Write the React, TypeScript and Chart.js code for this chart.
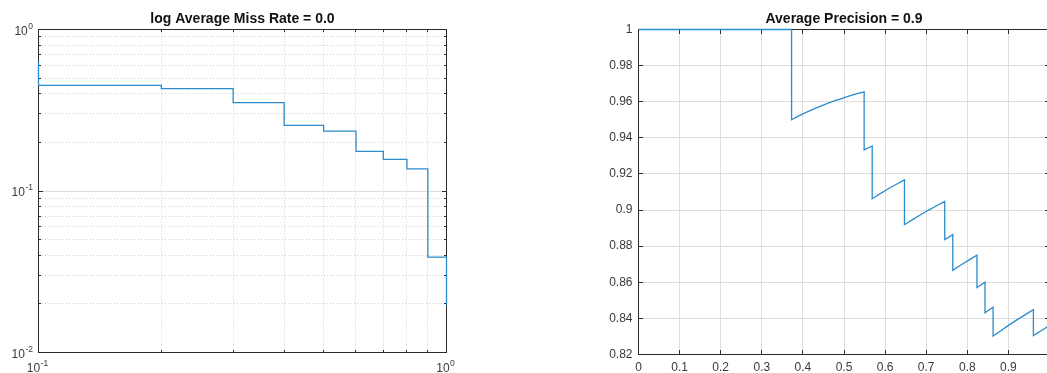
import React, { useEffect, useRef } from 'react';
import { Chart, registerables } from 'chart.js';

Chart.register(...registerables);

const FONT = "'Liberation Sans', Arial, Helvetica, sans-serif";
const TEXT_COLOR = '#3a3a3a';
const AXIS_COLOR = '#2b2b2b';
const LINE_COLOR = '#2b8bcb';
const GRID_COLOR = '#dedede';
const DOT_GRID_COLOR = '#cfcfcf';

// ---- Left panel: miss rate vs false positives per image (log-log) ----
const missTitle = 'log Average Miss Rate = 0.0';
const fppi = [0.1, 0.1, 0.2, 0.3, 0.4, 0.5, 0.6, 0.7, 0.8, 0.9, 1.0];
const missRate = [0.627, 0.451, 0.431, 0.353, 0.255, 0.235, 0.176, 0.157, 0.137, 0.039, 0.0196];
const logXLabelValues = [0.1, 1];
const logXLabelExps = ['-1', '0'];
const logYLabelValues = [1, 0.1, 0.01];
const logYLabelExps = ['0', '-1', '-2'];
const decadeGridY = [0.1];

// ---- Right panel: precision vs recall ----
const apTitle = 'Average Precision = 0.9';
const recall = [
  0, 0.3725, 0.3725, 0.3922, 0.4118, 0.4314, 0.451, 0.4706, 0.4902, 0.5098, 0.5294,
  0.549, 0.549, 0.5686, 0.5686, 0.5882, 0.6078, 0.6275, 0.6471, 0.6471, 0.6667,
  0.6863, 0.7059, 0.7255, 0.7451, 0.7451, 0.7647, 0.7647, 0.7843, 0.8039, 0.8235,
  0.8235, 0.8431, 0.8431, 0.8627, 0.8627, 0.8824, 0.902, 0.9216, 0.9412, 0.9608,
  0.9608, 0.9804, 1.0,
];
const precision = [
  1, 1, 0.95, 0.9524, 0.9545, 0.9565, 0.9583, 0.96, 0.9615, 0.963, 0.9643,
  0.9655, 0.9333, 0.9355, 0.9063, 0.9091, 0.9118, 0.9143, 0.9167, 0.8919, 0.8947,
  0.8974, 0.9, 0.9024, 0.9048, 0.8837, 0.8864, 0.8667, 0.8696, 0.8723, 0.875,
  0.8571, 0.86, 0.8431, 0.8462, 0.8302, 0.8333, 0.8364, 0.8393, 0.8421, 0.8448,
  0.8305, 0.8333, 0.8361,
];
const recallMin = 0;
const recallMax = 1;
const recallStep = 0.1;
const precMin = 0.82;
const precMax = 1;
const precStep = 0.02;

const al = (p: number) => Math.round(p - 0.5) + 0.5;
const isDecade = (v: number) => Math.abs(Math.log10(v) - Math.round(Math.log10(v))) < 1e-6;
const isLogStep = (v: number) => {
  const m = v / Math.pow(10, Math.floor(Math.log10(v) + 1e-9));
  return Math.abs(m - Math.round(m)) < 1e-6;
};

function framePlugin(tickLen: (v: number) => number, solidY: number[]) {
  return {
    id: 'matlabFrame',
    beforeDatasetsDraw(chart: any) {
      const { ctx, chartArea: a, scales } = chart;
      const L = al(a.left), R = al(a.right), T = al(a.top), B = al(a.bottom);
      ctx.save();
      ctx.lineWidth = 1;
      ctx.setLineDash([]);
      ctx.strokeStyle = GRID_COLOR;
      for (const v of solidY) {
        const y = al(scales.y.getPixelForValue(v));
        ctx.beginPath();
        ctx.moveTo(L, y);
        ctx.lineTo(R, y);
        ctx.stroke();
      }
      ctx.strokeStyle = AXIS_COLOR;
      ctx.beginPath();
      for (const t of scales.x.ticks) {
        const x = al(scales.x.getPixelForValue(t.value));
        const len = tickLen(t.value);
        ctx.moveTo(x, B);
        ctx.lineTo(x, B - len);
        ctx.moveTo(x, T);
        ctx.lineTo(x, T + len);
      }
      for (const t of scales.y.ticks) {
        const y = al(scales.y.getPixelForValue(t.value));
        const len = tickLen(t.value);
        ctx.moveTo(L, y);
        ctx.lineTo(L + len, y);
        ctx.moveTo(R, y);
        ctx.lineTo(R - len, y);
      }
      ctx.stroke();
      ctx.strokeRect(L, T, R - L, B - T);
      ctx.restore();
    },
  };
}

const logLabelPlugin = {
  id: 'logLabels',
  afterDraw(chart: any) {
    const { ctx, chartArea: a, scales } = chart;
    ctx.save();
    ctx.fillStyle = TEXT_COLOR;
    ctx.textBaseline = 'alphabetic';
    ctx.textAlign = 'left';
    const baseFont = `12px ${FONT}`;
    const expFont = `8.5px ${FONT}`;
    const drawPow = (exp: string, x: number, y: number, align: 'center' | 'right') => {
      ctx.font = baseFont;
      const wb = ctx.measureText('10').width;
      ctx.font = expFont;
      const we = ctx.measureText(exp).width;
      const total = wb + 0.5 + we;
      const x0 = align === 'center' ? x - total / 2 : x - total;
      ctx.font = baseFont;
      ctx.fillText('10', x0, y);
      ctx.font = expFont;
      ctx.fillText(exp, x0 + wb + 0.5, y - 6);
    };
    logXLabelValues.forEach((v, i) =>
      drawPow(logXLabelExps[i], scales.x.getPixelForValue(v) - 1, a.bottom + 19.5, 'center')
    );
    logYLabelValues.forEach((v, i) =>
      drawPow(logYLabelExps[i], a.left - 5.5, scales.y.getPixelForValue(v) + 5, 'right')
    );
    ctx.restore();
  },
};

const fmt = (v: number | string) => String(+Number(v).toFixed(2));

export default function App() {
  const leftRef = useRef<HTMLCanvasElement>(null);
  const rightRef = useRef<HTMLCanvasElement>(null);

  useEffect(() => {
    Chart.defaults.font.family = FONT;
    const titleOpts = (text: string) => ({
      display: true,
      text,
      fullSize: false,
      color: '#111',
      font: { family: FONT, size: 14, weight: 'bold' as const, lineHeight: 1.2 },
      padding: { top: 11, bottom: 1.7 },
    });

    const dotGrid = {
      color: DOT_GRID_COLOR,
      lineWidth: 1,
      drawTicks: false,
      borderDash: [1, 2],
    };

    const c1 = new Chart(leftRef.current as HTMLCanvasElement, {
      type: 'line',
      data: {
        datasets: [
          {
            data: fppi.map((x, i) => ({ x, y: missRate[i] })),
            borderColor: LINE_COLOR,
            borderWidth: 1.3,
            pointRadius: 0,
            fill: false,
            stepped: 'before',
            clip: 4,
          } as any,
        ],
      },
      options: {
        responsive: false,
        animation: false,
        events: [],
        layout: { padding: { left: 0, right: 76.5, top: 0, bottom: 0 } },
        plugins: {
          legend: { display: false },
          tooltip: { enabled: false },
          title: titleOpts(missTitle),
        },
        scales: {
          x: {
            type: 'logarithmic',
            min: 0.1,
            max: 1,
            ticks: { display: false },
            grid: dotGrid as any,
            border: { display: false, dash: [1, 2] },
            afterBuildTicks: (s: any) => {
              s.ticks = s.ticks.filter((t: any) => isLogStep(t.value));
            },
            afterFit: (s: any) => {
              s.height = 20.5;
              s.paddingLeft = 0;
              s.paddingRight = 0;
            },
          },
          y: {
            type: 'logarithmic',
            min: 0.01,
            max: 1,
            ticks: { display: false },
            grid: dotGrid as any,
            border: { display: false, dash: [1, 2] },
            afterBuildTicks: (s: any) => {
              s.ticks = s.ticks.filter((t: any) => isLogStep(t.value));
            },
            afterFit: (s: any) => {
              s.width = 38.5;
              s.paddingTop = 0;
              s.paddingBottom = 0;
            },
          },
        },
      },
      plugins: [framePlugin((v) => (isDecade(v) ? 4.5 : 2.5), decadeGridY), logLabelPlugin],
    });

    const tickFont = { family: FONT, size: 12 };
    const c2 = new Chart(rightRef.current as HTMLCanvasElement, {
      type: 'line',
      data: {
        datasets: [
          {
            data: recall.map((x, i) => ({ x, y: precision[i] })),
            borderColor: LINE_COLOR,
            borderWidth: 1.3,
            pointRadius: 0,
            fill: false,
            tension: 0,
            clip: 4,
          } as any,
        ],
      },
      options: {
        responsive: false,
        animation: false,
        events: [],
        layout: { padding: { left: 0, right: 33.5, top: 0, bottom: 0 } },
        plugins: {
          legend: { display: false },
          tooltip: { enabled: false },
          title: titleOpts(apTitle),
        },
        scales: {
          x: {
            type: 'linear',
            min: recallMin,
            max: recallMax,
            ticks: {
              stepSize: recallStep,
              autoSkip: false,
              maxRotation: 0,
              padding: 6,
              color: TEXT_COLOR,
              font: tickFont,
              callback: (v: any) => fmt(v),
            },
            grid: { color: GRID_COLOR, lineWidth: 1, drawTicks: false },
            border: { display: false },
            afterFit: (s: any) => {
              s.height = 18.5;
              s.paddingLeft = 0;
              s.paddingRight = 0;
            },
          },
          y: {
            type: 'linear',
            min: precMin,
            max: precMax,
            ticks: {
              stepSize: precStep,
              autoSkip: false,
              padding: 6,
              color: TEXT_COLOR,
              font: tickFont,
              callback: (v: any) => fmt(v),
            },
            grid: { color: GRID_COLOR, lineWidth: 1, drawTicks: false },
            border: { display: false },
            afterFit: (s: any) => {
              s.width = 115.5;
              s.paddingTop = 0;
              s.paddingBottom = 0;
            },
          },
        },
      },
      plugins: [framePlugin(() => 4.5, [])],
    });

    return () => {
      c1.destroy();
      c2.destroy();
    };
  }, []);

  return (
    <div
      style={{
        position: 'fixed',
        left: 0,
        top: 0,
        width: 1047,
        height: 373,
        overflow: 'hidden',
        background: '#ffffff',
      }}
    >
      <div style={{ position: 'absolute', left: 0, top: 0, width: 523, height: 373 }}>
        <canvas ref={leftRef} width={523} height={373} style={{ display: 'block' }} />
      </div>
      <div style={{ position: 'absolute', left: 523, top: 0, width: 560, height: 373 }}>
        <canvas ref={rightRef} width={560} height={373} style={{ display: 'block' }} />
      </div>
    </div>
  );
}
